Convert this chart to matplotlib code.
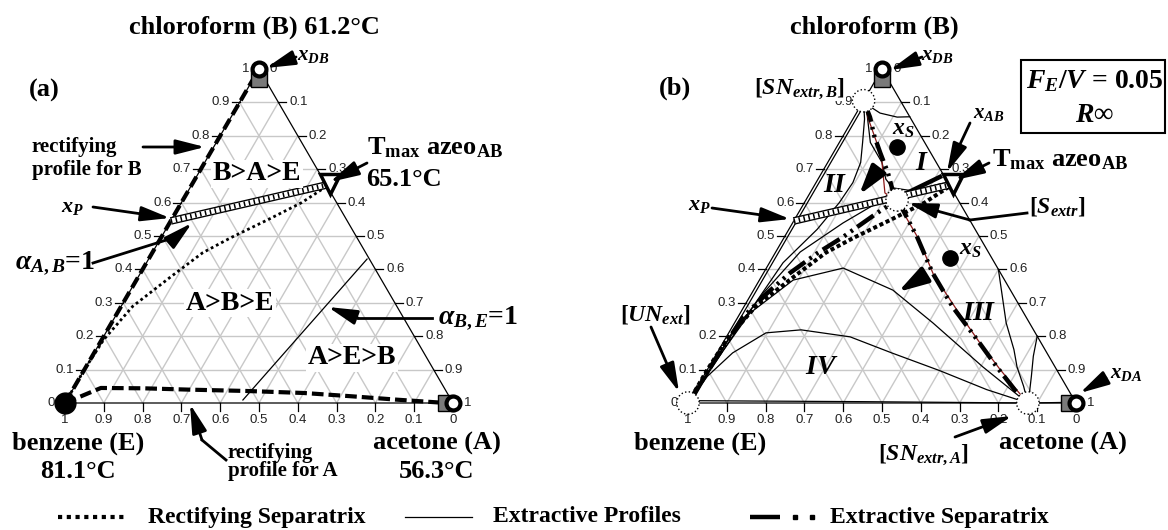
import numpy as np
import matplotlib.pyplot as plt
from matplotlib.patches import Rectangle

plt.rcParams['font.family'] = ['Liberation Serif', 'DejaVu Serif']
plt.rcParams['mathtext.fontset'] = 'custom'
plt.rcParams['mathtext.rm'] = 'Liberation Serif:bold'
plt.rcParams['mathtext.it'] = 'Liberation Serif:italic:bold'
plt.rcParams['mathtext.bf'] = 'Liberation Serif:bold'

W, H = 1168, 530

# ---------------- data: compositions (xA = acetone, xB = chloroform) ----------------
grid_vals = [0.1, 0.2, 0.3, 0.4, 0.5, 0.6, 0.7, 0.8, 0.9]
tick_vals = [0, 0.1, 0.2, 0.3, 0.4, 0.5, 0.6, 0.7, 0.8, 0.9, 1]
tick_text = ['0', '0.1', '0.2', '0.3', '0.4', '0.5', '0.6', '0.7', '0.8', '0.9', '1']

azeo_AB = (0.355, 0.655)
xDB_circle = (0.0, 1.0)
xDB_square = (0.015, 0.97)
xDA_circle = (1.0, 0.0)
xDA_square = (0.983, 0.0)

# rectifying separatrix (dotted)
rsep_xA = [0, 0.0, 0.005, 0.03, 0.085, 0.13, 0.18, 0.25, 0.31, 0.355]
rsep_xB = [0, 0.1, 0.19, 0.29, 0.38, 0.45, 0.495, 0.55, 0.60, 0.655]

# feed line x_P -> azeotrope (chain of small circles)
xP_line_xA = [0.0, 0.355]
xP_line_xB = [0.545, 0.655]

# panel (a)
profB_xA = [0.0, 0.0]
profB_xB = [0.0, 0.97]
profA_xA = [0, 0.07, 0.18, 0.30, 0.45, 0.60, 0.73, 0.85, 0.983]
profA_xB = [0, 0.045, 0.044, 0.040, 0.036, 0.030, 0.020, 0.010, 0.0]
alphaBE_xA = [0.454, 0.563]
alphaBE_xB = [0.009, 0.431]

# panel (b) singular points
UN_ext = (0.0, 0.0)
SN_B = (0.0, 0.905)
S_extr = (0.235, 0.608)
SN_A = (0.876, 0.0)
xS_pts_xA = [0.156, 0.457]
xS_pts_xB = [0.767, 0.434]

# extractive separatrix branches
esep1_xA = [0, 0.005, 0.013, 0.04, 0.068, 0.11, 0.151, 0.203, 0.235]
esep1_xB = [0, 0.12, 0.257, 0.33, 0.389, 0.45, 0.497, 0.569, 0.608]
esep2_xA = [0.235, 0.214, 0.17, 0.121, 0.08, 0.041, 0.0]
esep2_xB = [0.608, 0.63, 0.69, 0.749, 0.80, 0.856, 0.905]
esep3_xA = [0.235, 0.265, 0.342, 0.436, 0.539, 0.651, 0.742, 0.823, 0.876]
esep3_xB = [0.608, 0.578, 0.497, 0.389, 0.287, 0.189, 0.108, 0.039, 0.0]
esep4_xA = [0.235, 0.25, 0.311]
esep4_xB = [0.608, 0.629, 0.677]

# extractive profiles (thin)
profiles = [
    ([0.008, 0.008], [0.0, 0.9]),
    ([0, 0.008, 0.017, 0.035, 0.073, 0.09, 0.095, 0.085, 0.06, 0.03, 0.0],
     [0, 0.1, 0.22, 0.42, 0.52, 0.6, 0.66, 0.72, 0.78, 0.85, 0.905]),
    ([0, 0.01, 0.03, 0.063, 0.13, 0.188, 0.235],
     [0, 0.2, 0.33, 0.452, 0.539, 0.599, 0.608]),
    ([0.0, 0.03, 0.061, 0.111, 0.143], [0.905, 0.885, 0.868, 0.856, 0.857]),
    ([0.02, 0.08, 0.14, 0.175, 0.206, 0.263, 0.321, 0.34],
     [0.88, 0.78, 0.72, 0.67, 0.644, 0.635, 0.656, 0.66]),
    ([0, 0.008, 0.025, 0.087, 0.198, 0.359, 0.511, 0.706, 0.847, 0.876],
     [0, 0.12, 0.269, 0.368, 0.404, 0.338, 0.24, 0.108, 0.018, 0.0]),
    ([0, 0.01, 0.04, 0.096, 0.182, 0.319, 0.45, 0.6, 0.75, 0.876],
     [0, 0.08, 0.15, 0.21, 0.219, 0.198, 0.15, 0.097, 0.04, 0.0]),
    ([0.0, 0.45, 0.876], [0.007, 0.004, 0.0]),
    ([0.6, 0.65, 0.70, 0.76, 0.794, 0.84, 0.876], [0.4, 0.32, 0.24, 0.16, 0.108, 0.05, 0.0]),
    ([0.8, 0.82, 0.845, 0.865, 0.876], [0.2, 0.14, 0.08, 0.03, 0.0]),
    ([0.876, 0.983], [0.0, 0.002]),
]
red_xA = [0, 0.04, 0.098, 0.14, 0.193, 0.225, 0.25, 0.30, 0.35, 0.44, 0.55, 0.66, 0.75, 0.83, 0.876]
red_xB = [0.905, 0.85, 0.778, 0.72, 0.629, 0.61, 0.59, 0.54, 0.49, 0.385, 0.282, 0.182, 0.104, 0.037, 0.0]


def tern(xa, xb):
    xa = np.asarray(xa, dtype=float)
    xb = np.asarray(xb, dtype=float)
    return xa + 0.5 * xb, xb


def tplot(ax, xa, xb, *args, **kw):
    X, Y = tern(xa, xb)
    return ax.plot(X, Y, *args, clip_on=False, **kw)


fig = plt.figure(figsize=(W / 100, H / 100), dpi=100)


def add_tri(left_px):
    ax = fig.add_axes([left_px / W, (H - 403) / H, 388 / W, 334 / H])
    ax.set_xlim(0, 1)
    ax.set_ylim(0, 1)
    ax.axis('off')
    return ax


def frame(ax):
    for v in grid_vals:
        for xa, xb in (([0, 1 - v], [v, v]), ([v, v], [0, 1 - v]), ([1 - v, 0], [0, 1 - v])):
            tplot(ax, xa, xb, color='#c8c8c8', lw=1.0, zorder=1)
    tplot(ax, [0, 1, 0, 0], [0, 0, 1, 0], color='k', lw=0.9, zorder=2)
    dx, dy = 8 / 388, 8 / 334
    for v, s in zip(tick_vals, tick_text):
        # left edge: chloroform
        X, Y = tern(0, v)
        ax.text(X - 10 / 388, Y, s, ha='right', va='center', fontsize=9.5,
                family='Liberation Sans', color='#222')
        # right edge: acetone
        X2, Y2 = tern(v, 1 - v)
        ax.text(X2 + 11 / 388, Y2, s, ha='left', va='center', fontsize=9.5,
                family='Liberation Sans', color='#222')
        # bottom: benzene
        X3, _ = tern(1 - v, 0)
        ax.text(X3, -17 / 334, s, ha='center', va='center', fontsize=9.5,
                family='Liberation Sans', color='#222')
        if 0 < v < 1:
            ax.plot([X - dx, X], [Y, Y], color='k', lw=0.9, clip_on=False)
            ax.plot([X2, X2 + dx], [Y2, Y2], color='k', lw=0.9, clip_on=False)
            ax.plot([X3, X3], [0, -dy], color='k', lw=0.9, clip_on=False)


def stripe(ax, xa, xb):
    tplot(ax, xa, xb, color='k', lw=5.5, solid_capstyle='butt', zorder=4)
    tplot(ax, xa, xb, color='white', lw=3.6, solid_capstyle='butt', zorder=4)
    tplot(ax, xa, xb, color='k', lw=3.6, dashes=(0.3, 0.7), dash_capstyle='butt', zorder=4)


def distillates(ax):
    tplot(ax, [xDB_square[0]], [xDB_square[1]], 's', ms=11, mfc='#7a7a7a', mec='k', mew=1, zorder=6)
    tplot(ax, [xDB_circle[0]], [xDB_circle[1]], 'o', ms=10, mfc='white', mec='k', mew=3, zorder=7)
    tplot(ax, [xDA_square[0]], [xDA_square[1]], 's', ms=11, mfc='#7a7a7a', mec='k', mew=1, zorder=6)
    tplot(ax, [xDA_circle[0]], [xDA_circle[1]], 'o', ms=10, mfc='white', mec='k', mew=3, zorder=7)
    tplot(ax, [azeo_AB[0]], [azeo_AB[1]], 'v', ms=15, mfc='white', mec='k', mew=2.5, zorder=7)


# ---------------- panel (a) ----------------
axL = add_tri(65)
frame(axL)
tplot(axL, profB_xA, profB_xB, color='k', lw=3, dashes=(2.8, 1.2), zorder=3)
tplot(axL, profA_xA, profA_xB, color='k', lw=3, dashes=(2.8, 1.2), zorder=3)
tplot(axL, rsep_xA, rsep_xB, color='k', lw=2, dashes=(1, 1.1), zorder=3)
tplot(axL, alphaBE_xA, alphaBE_xB, color='k', lw=0.9, zorder=3)
stripe(axL, xP_line_xA, xP_line_xB)
tplot(axL, [0], [0], 'o', ms=15, color='k', zorder=7)
distillates(axL)

# ---------------- panel (b) ----------------
axR = add_tri(688)
frame(axR)
for xa, xb in profiles:
    tplot(axR, xa, xb, color='k', lw=0.9, zorder=3)
tplot(axR, red_xA, red_xB, color='#8b1a1a', lw=0.9, zorder=3)
sep_style = dict(color='k', lw=3.2, dashes=(4.5, 1.2, 0.6, 1.2, 0.6, 1.2), zorder=4)
for xa, xb in ((esep1_xA, esep1_xB), (esep2_xA, esep2_xB), (esep3_xA, esep3_xB)):
    tplot(axR, xa, xb, **sep_style)
tplot(axR, esep4_xA, esep4_xB, color='k', lw=3.2, zorder=4)
tplot(axR, rsep_xA, rsep_xB, color='k', lw=2.9, dashes=(1, 0.7), zorder=4)
stripe(axR, xP_line_xA, xP_line_xB)
Xn, Yn = tern([UN_ext[0], SN_B[0], S_extr[0], SN_A[0]], [UN_ext[1], SN_B[1], S_extr[1], SN_A[1]])
axR.scatter(Xn, Yn, s=260, facecolors='white', edgecolors='k', linewidths=1.0,
            linestyles=':', zorder=8, clip_on=False)
tplot(axR, xS_pts_xA, xS_pts_xB, 'o', ms=11, color='k', ls='none', zorder=7)
distillates(axR)

# ---------------- overlay: labels and arrows ----------------
ov = fig.add_axes([0, 0, 1, 1], zorder=10)
ov.set_xlim(0, W)
ov.set_ylim(H, 0)
ov.axis('off')
ov.patch.set_alpha(0)

BIG = 19


def T(x, y, s, size=BIG, ha='center', **kw):
    ov.text(x, y, s, fontsize=size, fontweight='bold', ha=ha, va='center', **kw)


def arrow(pts, lw=2.0, hw=0.28, hl=1.1, ms=16):
    xs = [p[0] for p in pts]
    ys = [p[1] for p in pts]
    if len(pts) > 2:
        ov.plot(xs[:-1], ys[:-1], color='k', lw=lw, solid_joinstyle='miter')
    ov.annotate('', xy=pts[-1], xytext=pts[-2],
                arrowprops=dict(arrowstyle=f'-|>,head_length={hl},head_width={hw}',
                                color='k', lw=lw, mutation_scale=ms, shrinkA=0, shrinkB=0))


wbox = dict(facecolor='white', edgecolor='none', pad=1)

# panel (a)
T(254, 27, 'chloroform (B) 61.2°C')
T(44, 90, '(a)')
T(32, 147, 'rectifying', size=15, ha='left')
T(32, 170, 'profile for B', size=15, ha='left')
arrow([(143, 147), (205, 147)])
T(257, 174, 'B>A>E', size=20, bbox=wbox)
T(367, 148, r'$\mathbf{T_{max}\ azeo_{AB}}$', size=BIG, ha='left')
T(366, 180, '65.1°C', ha='left')
arrow([(367, 163), (330, 182)])
T(313, 55, r'$x_{DB}$', size=15)
arrow([(296, 57), (266, 68)])
T(72, 207, r'$x_P$', size=16)
arrow([(93, 207), (170, 218)])
T(55, 263, r'$\alpha_{A,B}$=1', size=20)
arrow([(93, 263), (176, 237), (192, 223)])
T(230, 303, 'A>B>E', size=20, bbox=wbox)
T(352, 358, 'A>E>B', size=20, bbox=wbox)
T(478, 318, r'$\alpha_{B,E}$=1', size=20)
arrow([(432, 318), (358, 318), (328, 307)])
T(228, 453, 'rectifying', size=15, ha='left')
T(228, 471, 'profile for A', size=15, ha='left')
arrow([(226, 460), (202, 440), (190, 404)])
T(78, 443, 'benzene (E)')
T(78, 472, '81.1°C')
T(437, 443, 'acetone (A)')
T(437, 472, '56.3°C')

# panel (b)
T(874, 27, 'chloroform (B)')
T(675, 88, '(b)')
T(937, 55, r'$x_{DB}$', size=15)
arrow([(922, 57), (890, 70)])
T(800, 89, r'$[SN_{extr,B}]$', size=17,
  bbox=dict(facecolor='white', edgecolor='none', pad=0))
T(903, 130, r'$x_S$', size=17)
T(922, 163, r'$I$', size=20)
T(835, 186, r'$II$', size=20)
T(989, 113, r'$x_{AB}$', size=15)
arrow([(970, 123), (947, 172)])
T(992, 160, r'$\mathbf{T_{max}\ azeo_{AB}}$', size=BIG, ha='left')
arrow([(989, 163), (955, 180)])
T(1057, 207, r'$[S_{extr}]$', size=17)
arrow([(1027, 213), (970, 220), (908, 203)])
ov.add_patch(Rectangle((1021, 60), 144, 73, fill=False, lw=1.5, ec='k'))
T(1095, 81, r'$F_E/V$ = 0.05', size=20)
T(1094, 116, 'R∞', size=20, style='italic')
T(699, 205, r'$x_P$', size=16)
arrow([(712, 208), (790, 219)])
T(655, 314, r'$[UN_{ext}]$', size=17)
arrow([(651, 327), (679, 392)])
T(979, 313, r'$III$', size=20)
T(822, 367, r'$IV$', size=20)
T(970, 250, r'$x_S$', size=17)
T(924, 455, r'$[SN_{extr,A}]$', size=17)
arrow([(955, 437), (1012, 416)])
T(1126, 373, r'$x_{DA}$', size=15)
arrow([(1106, 378), (1080, 393)])
arrow([(875, 174), (859, 195)], lw=3, hw=0.35, hl=1.2, ms=15)
arrow([(919, 279), (898, 292)], lw=3, hw=0.35, hl=1.2, ms=15)
T(700, 443, 'benzene (E)')
T(1063, 443, 'acetone (A)')

# legend
LY = 517
ov.plot([58, 127], [LY, LY], color='k', lw=3, dashes=(1, 1.1))
T(148, LY, 'Rectifying Separatrix', size=17, ha='left')
ov.plot([405, 472], [LY, LY], color='k', lw=0.9)
T(493, LY, 'Extractive Profiles', size=17, ha='left')
ov.plot([750, 780], [LY, LY], color='k', lw=3.2, solid_capstyle='butt')
ov.plot([795, 812], [LY, LY], 's', color='k', ms=2.6)
T(830, LY, 'Extractive Separatrix', size=17, ha='left')

fig.savefig('out.png', dpi=100)
